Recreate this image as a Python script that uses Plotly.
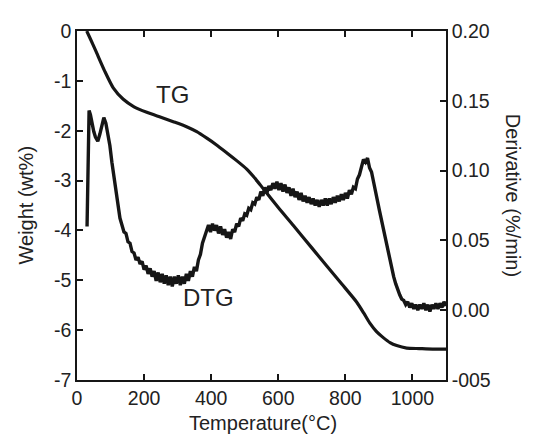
import plotly.graph_objects as go

# TG curve (left axis, wt%)
tg_temp = [29, 40, 56, 83, 108, 138, 170, 208, 250, 287, 330, 357, 387, 415, 446, 476,
           506, 530, 555, 600, 645, 700, 744, 790, 834, 855, 873, 893, 913, 933, 953,
           983, 1020, 1060, 1100]
tg_weight = [0.0, -0.16, -0.40, -0.81, -1.14, -1.37, -1.52, -1.63, -1.73, -1.82, -1.93,
             -2.02, -2.15, -2.28, -2.44, -2.60, -2.77, -2.95, -3.16, -3.54, -3.90, -4.35,
             -4.71, -5.08, -5.44, -5.66, -5.86, -6.03, -6.15, -6.25, -6.31, -6.36, -6.37,
             -6.38, -6.38]

# DTG curve (right axis, %/min)
dtg_temp = [30, 36, 40, 45, 50, 55, 62, 68, 74, 80, 86, 92, 98, 104, 110, 116, 122, 128,
            134, 140, 146, 152, 158, 164, 170, 176, 182, 188, 194, 200, 206, 212, 218,
            224, 230, 236, 242, 248, 254, 260, 266, 272, 278, 284, 290, 296, 302, 308,
            314, 320, 326, 332, 338, 344, 350, 356, 362, 368, 374, 380, 386, 392, 398,
            404, 410, 416, 422, 428, 434, 440, 446, 452, 458, 464, 470, 476, 482, 488,
            494, 500, 506, 512, 518, 524, 530, 536, 542, 548, 554, 560, 566, 572, 578,
            584, 590, 596, 602, 608, 614, 620, 626, 632, 638, 644, 650, 656, 662, 668,
            674, 680, 686, 692, 698, 704, 710, 716, 722, 728, 734, 740, 746, 752, 758,
            764, 770, 776, 782, 788, 794, 800, 806, 812, 818, 824, 830, 836, 842, 848,
            854, 860, 866, 872, 878, 884, 890, 896, 902, 908, 914, 920, 926, 932, 938,
            944, 950, 956, 962, 968, 974, 980, 986, 992, 998, 1004, 1010, 1016, 1022,
            1028, 1034, 1040, 1046, 1052, 1058, 1064, 1070, 1076, 1082, 1088, 1094, 1100]
dtg_value = [0.060, 0.143, 0.140, 0.132, 0.128, 0.124, 0.121, 0.126, 0.133, 0.138, 0.134,
             0.127, 0.118, 0.106, 0.095, 0.084, 0.074, 0.066, 0.061, 0.056, 0.055, 0.049,
             0.048, 0.042, 0.041, 0.036, 0.038, 0.033, 0.035, 0.029, 0.032, 0.026, 0.030,
             0.024, 0.028, 0.021, 0.027, 0.020, 0.026, 0.019, 0.025, 0.018, 0.024, 0.017,
             0.024, 0.019, 0.025, 0.018, 0.024, 0.019, 0.026, 0.021, 0.028, 0.024, 0.031,
             0.028, 0.036, 0.040, 0.048, 0.053, 0.058, 0.061, 0.056, 0.062, 0.057, 0.061,
             0.055, 0.060, 0.054, 0.058, 0.052, 0.056, 0.051, 0.058, 0.056, 0.062, 0.060,
             0.066, 0.064, 0.069, 0.068, 0.073, 0.072, 0.077, 0.076, 0.081, 0.079, 0.085,
             0.082, 0.088, 0.084, 0.089, 0.086, 0.091, 0.087, 0.092, 0.086, 0.091, 0.085,
             0.090, 0.084, 0.088, 0.082, 0.087, 0.081, 0.085, 0.079, 0.084, 0.078, 0.082,
             0.077, 0.081, 0.076, 0.080, 0.075, 0.079, 0.074, 0.079, 0.075, 0.080, 0.075,
             0.080, 0.076, 0.081, 0.077, 0.082, 0.078, 0.083, 0.079, 0.084, 0.080, 0.086,
             0.083, 0.088, 0.087, 0.094, 0.097, 0.104, 0.108, 0.106, 0.109, 0.102, 0.099,
             0.092, 0.086, 0.078, 0.071, 0.064, 0.058, 0.052, 0.045, 0.038, 0.031, 0.024,
             0.019, 0.014, 0.011, 0.008, 0.007, 0.004, 0.006, 0.002, 0.005, 0.001, 0.004,
             0.000, 0.004, 0.001, 0.005, 0.000, 0.004, -0.001, 0.004, 0.001, 0.005, 0.001,
             0.005, 0.002, 0.006, 0.003]

x_ticks = [0, 200, 400, 600, 800, 1000]
y_ticks = [0, -1, -2, -3, -4, -5, -6, -7]
y_ticktext = ["0", "-1", "-2", "-3", "-4", "-5", "-6", "-7"]
y2_ticks = [0.20, 0.15, 0.10, 0.05, 0.00, -0.05]
y2_ticktext = ["0.20", "0.15", "0.10", "0.05", "0.00", "-005"]

INK = "#161616"
TXT = "#222222"
FONT = "Liberation Sans, Arial, sans-serif"

# page body has an 8px default margin: size the figure so the plot frame
# lands where the reference has it (x 77..446, y 22..380 in the window)
OFF = 8
W, H = 533 - OFF, 437 - OFF
ML, MR, MT, MB = 77 - OFF, 87, 22 - OFF, 57
pw, ph = W - ML - MR, H - MT - MB

fig = go.Figure()
fig.add_trace(go.Scatter(x=tg_temp, y=tg_weight, mode="lines",
                         line=dict(color=INK, width=3.2, shape="spline", smoothing=0.6),
                         name="TG", showlegend=False))
fig.add_trace(go.Scatter(x=dtg_temp, y=dtg_value, mode="lines", yaxis="y2",
                         line=dict(color=INK, width=3.4),
                         name="DTG", showlegend=False))

axis_common = dict(showline=True, linecolor=INK, linewidth=1.5, ticks="inside",
                   ticklen=6, tickwidth=1.5, tickcolor=INK, showgrid=False,
                   zeroline=False, tickfont=dict(family=FONT, size=19.5, color=TXT))

def px_to_paper(px, py):
    # px, py are window pixel coordinates
    return (px - OFF - ML) / pw, (H - MB - (py - OFF)) / ph

title_font = dict(size=20, family=FONT, color=TXT)
anns = [
    dict(text="TG", x=286, y=-1.28, xref="x", yref="y", showarrow=False,
         font=dict(size=24, family=FONT, color=TXT)),
    dict(text="DTG", x=393, y=-5.34, xref="x", yref="y", showarrow=False,
         font=dict(size=24, family=FONT, color=TXT)),
]
for text, ang, (px, py) in [("Temperature(°C)", 0, (263, 424)),
                            ("Weight (wt%)", -90, (25, 201)),
                            ("Derivative (%/min)", 90, (513, 190))]:
    xx, yy = px_to_paper(px, py)
    anns.append(dict(text=text, textangle=ang, x=xx, y=yy, xref="paper", yref="paper",
                     xanchor="center", yanchor="middle", showarrow=False,
                     font=title_font))

fig.update_layout(
    width=W, height=H,
    margin=dict(l=ML, r=MR, t=MT, b=MB),
    paper_bgcolor="white", plot_bgcolor="white",
    font=dict(family=FONT, color=TXT),
    xaxis=dict(range=[0, 1100], tickvals=x_ticks, mirror="ticks", **axis_common),
    yaxis=dict(range=[-7, 0], tickvals=y_ticks, ticktext=y_ticktext, mirror=False,
               **axis_common),
    yaxis2=dict(range=[-0.05, 0.20], tickvals=y2_ticks, ticktext=y2_ticktext,
                overlaying="y", side="right", **axis_common),
    annotations=anns,
)

fig.write_html("out.html")
